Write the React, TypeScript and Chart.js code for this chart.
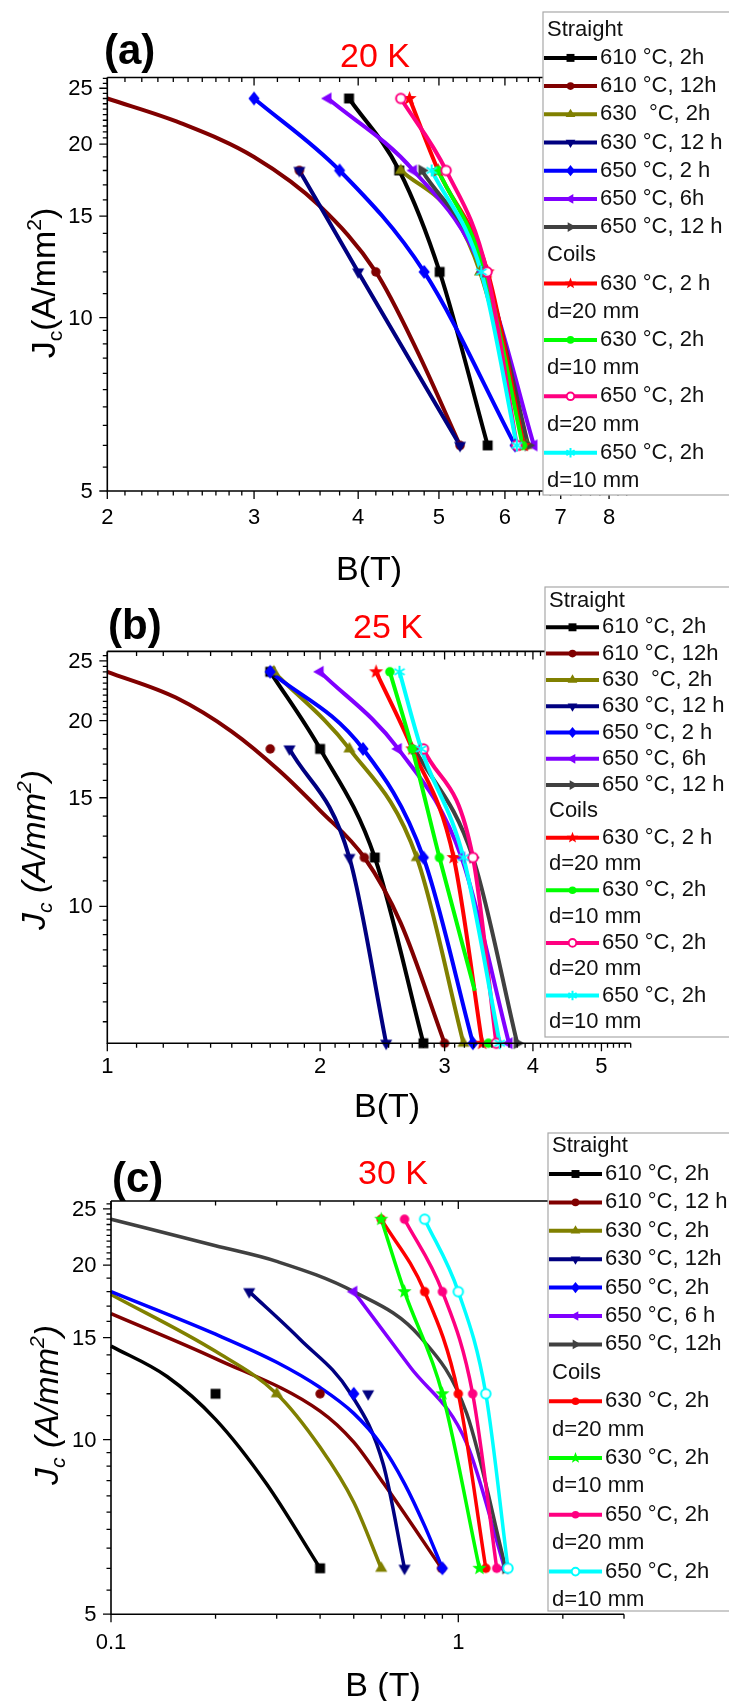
import React, { useEffect, useRef } from 'react';
import { Chart, registerables } from 'chart.js';

Chart.register(...registerables);

const FONT = '"Liberation Sans", Arial, Helvetica, sans-serif';
const PAGE_W = 729;

// Jc levels (A/mm^2) at which every sample was measured
const J_LEVELS = [24, 18, 12, 6];

// ---------- Panel (a), 20 K : B (T) reached at each Jc level (null = not shown)
const A_610_2H = [3.9, 4.48, 5.01, 5.72];
const A_610_12H = [null, 3.4, 4.2, 5.3];
const A_610_12H_FIT_B = [2.0, 2.45, 3.0, 3.6, 4.2, 4.7, 5.3];
const A_610_12H_FIT_J = [24, 21.75, 19, 15.6, 12, 8.8, 6];
const A_630_2H = [null, 4.5, 5.6, 6.37];
const A_630_2H_FIT_B = [4.5, 5.25, 5.6, 6.37];
const A_630_2H_FIT_J = [18, 14.77, 12, 6];
const A_630_12H = [null, 3.4, 4.0, 5.3];
const A_650_2H = [3.0, 3.8, 4.8, 6.17];
const A_650_6H = [3.68, 4.66, 5.65, 6.5];
const A_650_12H = [null, 4.77, 5.68, 6.4];
const A_C630_20 = [4.61, 4.99, 5.72, 6.32];
const A_C630_10 = [null, 4.99, 5.68, 6.3];
const A_C650_20 = [4.5, 5.1, 5.71, 6.2];
const A_C650_10 = [null, 4.9, 5.62, 6.2];

// ---------- Panel (b), 25 K
const B_610_2H = [1.7, 2.0, 2.39, 2.8];
const B_610_12H = [null, 1.7, 2.31, 3.0];
const B_610_12H_FIT_B = [1.0, 1.25, 1.5, 1.75, 2.0, 2.31, 2.6, 3.0];
const B_610_12H_FIT_J = [24, 21.8, 19.2, 16.6, 14.3, 12.0, 9.4, 6];
const B_630_2H = [1.72, 2.2, 2.74, 3.19];
const B_630_12H = [null, 1.81, 2.2, 2.48];
const B_650_2H = [1.7, 2.3, 2.8, 3.29];
const B_650_6H = [2.0, 2.58, 3.17, 3.7];
const B_650_12H = [null, 2.72, 3.29, 3.8];
const B_C630_20 = [2.4, 2.7, 3.09, 3.39];
const B_C630_10 = [2.51, 2.7, 2.95, 3.46];
const B_C630_10_FIT_B = [2.51, 2.7, 2.95, 3.31];
const B_C630_10_FIT_J = [24, 18, 12, 7.3];
const B_C650_20 = [null, 2.8, 3.29, 3.55];
const B_C650_10 = [2.59, 2.78, 3.19, 3.59];

// ---------- Panel (c), 30 K
const C_610_2H = [null, null, 0.2, 0.4];
const C_610_2H_FIT_B = [0.1, 0.145, 0.2, 0.28, 0.4];
const C_610_2H_FIT_J = [14.5, 12.85, 10.84, 8.4, 6];
const C_610_12H = [null, null, 0.4, 0.895];
const C_610_12H_FIT_B = [0.1, 0.2, 0.4, 0.5, 0.61, 0.895];
const C_610_12H_FIT_J = [16.5, 13.8, 11.2, 9.9, 8.4, 6];
const C_630_2H = [null, null, 0.3, 0.6];
const C_630_2H_FIT_B = [0.1, 0.2, 0.3, 0.4, 0.5, 0.6];
const C_630_2H_FIT_J = [17.8, 14.2, 12, 9.7, 7.8, 6];
const C_630_12H = [null, 0.25, 0.55, 0.7];
const C_630_12H_FIT_B = [0.25, 0.35, 0.49, 0.608, 0.7];
const C_630_12H_FIT_J = [18, 14.9, 12, 9.07, 6];
const C_650_2H = [null, null, 0.5, 0.9];
const C_650_2H_FIT_B = [0.1, 0.2, 0.3, 0.4, 0.5, 0.6, 0.7, 0.8, 0.9];
const C_650_2H_FIT_J = [18, 15.2, 13.6, 12.3, 11.1, 9.8, 8.4, 7.1, 6];
const C_650_6H = [null, 0.5, null, 1.36];
const C_650_6H_FIT_B = [0.5, 0.726, 1.057, 1.36];
const C_650_6H_FIT_J = [18, 13.36, 9.86, 6];
const C_650_12H = [null, null, null, 1.37];
const C_650_12H_FIT_B = [0.1, 0.2, 0.3, 0.5, 0.776, 1.057, 1.37];
const C_650_12H_FIT_J = [24, 21.6, 20.3, 18, 15.05, 11.1, 6];
const C_C630_20 = [0.6, 0.8, 1.0, 1.2];
const C_C630_10 = [0.6, 0.7, 0.9, 1.15];
const C_C650_20 = [0.7, 0.9, 1.1, 1.29];
const C_C650_10 = [0.8, 1.0, 1.2, 1.39];

// ---------- Tick labels
const A_X_TICKS = [2, 3, 4, 5, 6, 7, 8];
const B_X_TICKS = [1, 2, 3, 4, 5];
const C_X_TICKS = [0.1, 1];
const C_X_TICK_LABELS = ['0.1', '1'];
const A_Y_TICKS = [5, 10, 15, 20, 25];
const B_Y_TICKS = [10, 15, 20, 25];
const C_Y_TICKS = [5, 10, 15, 20, 25];

// ---------- Legend text
const LEGEND_AB = ['610 °C, 2h', '610 °C, 12h', '630  °C, 2h', '630 °C, 12 h', '650 °C, 2 h', '650 °C, 6h', '650 °C, 12 h', '630 °C, 2 h', '630 °C, 2h', '650 °C, 2h', '650 °C, 2h'];
const LEGEND_C = ['610 °C, 2h', '610 °C, 12 h', '630 °C, 2h', '630 °C, 12h', '650 °C, 2h', '650 °C, 6 h', '650 °C, 12h', '630 °C, 2h', '630 °C, 2h', '650 °C, 2h', '650 °C, 2h'];
const COIL_D = ['d=20 mm', 'd=10 mm', 'd=20 mm', 'd=10 mm'];

const COLORS = ['#000000', '#800000', '#808000', '#000080', '#0000ff', '#8000ff', '#404040', '#ff0000', '#00ff00', '#ff0080', '#00ffff'];

type Marker = 'square' | 'circle' | 'open' | 'up' | 'down' | 'left' | 'right' | 'diamond' | 'star' | 'asterisk';
const MARKERS_AB: Marker[] = ['square', 'circle', 'up', 'down', 'diamond', 'left', 'right', 'star', 'circle', 'open', 'asterisk'];
const MARKERS_C: Marker[] = ['square', 'circle', 'up', 'down', 'diamond', 'left', 'right', 'circle', 'star', 'circle', 'open'];

type Series = { b: (number | null)[]; fitB?: number[]; fitJ?: number[] };

const SERIES_A: Series[] = [
  { b: A_610_2H },
  { b: A_610_12H, fitB: A_610_12H_FIT_B, fitJ: A_610_12H_FIT_J },
  { b: A_630_2H, fitB: A_630_2H_FIT_B, fitJ: A_630_2H_FIT_J },
  { b: A_630_12H },
  { b: A_650_2H },
  { b: A_650_6H },
  { b: A_650_12H },
  { b: A_C630_20 },
  { b: A_C630_10 },
  { b: A_C650_20 },
  { b: A_C650_10 },
];
const SERIES_B: Series[] = [
  { b: B_610_2H },
  { b: B_610_12H, fitB: B_610_12H_FIT_B, fitJ: B_610_12H_FIT_J },
  { b: B_630_2H },
  { b: B_630_12H },
  { b: B_650_2H },
  { b: B_650_6H },
  { b: B_650_12H },
  { b: B_C630_20 },
  { b: B_C630_10, fitB: B_C630_10_FIT_B, fitJ: B_C630_10_FIT_J },
  { b: B_C650_20 },
  { b: B_C650_10 },
];
const SERIES_C: Series[] = [
  { b: C_610_2H, fitB: C_610_2H_FIT_B, fitJ: C_610_2H_FIT_J },
  { b: C_610_12H, fitB: C_610_12H_FIT_B, fitJ: C_610_12H_FIT_J },
  { b: C_630_2H, fitB: C_630_2H_FIT_B, fitJ: C_630_2H_FIT_J },
  { b: C_630_12H, fitB: C_630_12H_FIT_B, fitJ: C_630_12H_FIT_J },
  { b: C_650_2H, fitB: C_650_2H_FIT_B, fitJ: C_650_2H_FIT_J },
  { b: C_650_6H, fitB: C_650_6H_FIT_B, fitJ: C_650_6H_FIT_J },
  { b: C_650_12H, fitB: C_650_12H_FIT_B, fitJ: C_650_12H_FIT_J },
  { b: C_C630_20 },
  { b: C_C630_10 },
  { b: C_C650_20 },
  { b: C_C650_10 },
];

type PanelCfg = {
  top: number; height: number;
  area: { left: number; right: number; top: number; bottom: number };
  x: { min: number; max: number }; y: { min: number; max: number };
  xTicks: number[]; xLabels: string[]; xMinor: number[][];
  yTicks: number[]; yMinor: number[][];
  xLabelOffset: number;
  letter: string; letterPos: number[]; temp: string; tempPos: number[];
  xTitle: string; xTitlePos: number[];
  yTitlePos: number[]; yItalic: boolean; ySpace: boolean;
  legend: { x: number; top: number; bottom: number; y0: number; dy: number };
  labels: string[]; markers: Marker[]; series: Series[]; lineWidth: number;
};

const PANELS: PanelCfg[] = [
  {
    top: 0, height: 600,
    area: { left: 107.3, right: 631, top: 77.5, bottom: 491 },
    x: { min: 2, max: 8.5 }, y: { min: 5, max: 26.1 },
    xTicks: A_X_TICKS, xLabels: A_X_TICKS.map(String), xMinor: [[2, 3, 0.1], [3, 8.5, 0.2]],
    yTicks: A_Y_TICKS, yMinor: [[5, 10, 0.5], [10, 20, 1], [20, 26.1, 0.5]],
    xLabelOffset: 33,
    letter: '(a)', letterPos: [104, 64], temp: '20 K', tempPos: [340, 67],
    xTitle: 'B(T)', xTitlePos: [369, 580],
    yTitlePos: [43, 283], yItalic: false, ySpace: false,
    legend: { x: 543, top: 12, bottom: 495, y0: 28.7, dy: 28.2 },
    labels: LEGEND_AB, markers: MARKERS_AB, series: SERIES_A, lineWidth: 4,
  },
  {
    top: 575, height: 560,
    area: { left: 107.3, right: 630.7, top: 651.4, bottom: 1043.2 },
    x: { min: 1, max: 5.5 }, y: { min: 6, max: 25.9 },
    xTicks: B_X_TICKS, xLabels: B_X_TICKS.map(String), xMinor: [[1, 5.5, 0.1]],
    yTicks: B_Y_TICKS, yMinor: [[6, 10, 0.5], [10, 20, 1], [20, 25.9, 0.5]],
    xLabelOffset: 30,
    letter: '(b)', letterPos: [108, 639], temp: '25 K', tempPos: [353, 638],
    xTitle: 'B(T)', xTitlePos: [387, 1117],
    yTitlePos: [33, 850], yItalic: true, ySpace: true,
    legend: { x: 545, top: 587, bottom: 1037, y0: 600, dy: 26.3 },
    labels: LEGEND_AB, markers: MARKERS_AB, series: SERIES_B, lineWidth: 4,
  },
  {
    top: 1120, height: 581,
    area: { left: 111, right: 624, top: 1201, bottom: 1614.2 },
    x: { min: 0.1, max: 3.0 }, y: { min: 5, max: 25.8 },
    xTicks: C_X_TICKS, xLabels: C_X_TICK_LABELS, xMinor: [[0.1, 1, 0.1], [1, 3, 1]],
    yTicks: C_Y_TICKS, yMinor: [[5, 10, 0.5], [10, 20, 1], [20, 25.8, 0.5]],
    xLabelOffset: 35,
    letter: '(c)', letterPos: [112, 1192], temp: '30 K', tempPos: [358, 1184],
    xTitle: 'B (T)', xTitlePos: [383, 1696],
    yTitlePos: [46, 1405], yItalic: true, ySpace: true,
    legend: { x: 548, top: 1133, bottom: 1611, y0: 1144.6, dy: 28.4 },
    labels: LEGEND_C, markers: MARKERS_C, series: SERIES_C, lineWidth: 3.5,
  },
];

function minorTicks(ranges: number[][], majors: number[]): number[] {
  const out: number[] = [];
  ranges.forEach(([a, b, step]) => {
    const n = Math.round((b - a) / step);
    for (let k = 1; k <= n; k++) {
      const v = Math.round((a + k * step) * 1000) / 1000;
      if (v > b + 1e-9) break;
      if (!majors.some((m) => Math.abs(m - v) < 1e-6) && !out.includes(v)) out.push(v);
    }
  });
  return out;
}

const MARKER_R: Record<Marker, number> = { square: 6.2, circle: 5.6, open: 5.6, up: 7, down: 7, left: 7, right: 7, diamond: 7, star: 7.5, asterisk: 6 };

function pathMarker(ctx: CanvasRenderingContext2D, m: Marker, x: number, y: number, r: number) {
  ctx.beginPath();
  if (m === 'square') {
    const s = r * 0.8;
    ctx.rect(x - s, y - s, 2 * s, 2 * s);
  } else if (m === 'circle' || m === 'open') {
    ctx.arc(x, y, r * 0.85, 0, Math.PI * 2);
  } else if (m === 'diamond') {
    ctx.moveTo(x, y - r); ctx.lineTo(x + r * 0.8, y); ctx.lineTo(x, y + r); ctx.lineTo(x - r * 0.8, y); ctx.closePath();
  } else if (m === 'up' || m === 'down' || m === 'left' || m === 'right') {
    const rot = { up: 0, right: Math.PI / 2, down: Math.PI, left: -Math.PI / 2 }[m];
    for (let k = 0; k < 3; k++) {
      const a = rot + (k * 2 * Math.PI) / 3;
      const px = x + Math.sin(a) * r;
      const py = y - Math.cos(a) * r;
      if (k === 0) ctx.moveTo(px, py); else ctx.lineTo(px, py);
    }
    ctx.closePath();
  } else if (m === 'star') {
    for (let k = 0; k < 10; k++) {
      const rr = k % 2 ? r * 0.42 : r;
      const a = (k * Math.PI) / 5;
      const px = x + Math.sin(a) * rr;
      const py = y - Math.cos(a) * rr;
      if (k === 0) ctx.moveTo(px, py); else ctx.lineTo(px, py);
    }
    ctx.closePath();
  } else {
    for (let k = 0; k < 3; k++) {
      const a = (k * Math.PI) / 3;
      ctx.moveTo(x + Math.sin(a) * r, y - Math.cos(a) * r);
      ctx.lineTo(x - Math.sin(a) * r, y + Math.cos(a) * r);
    }
  }
}

function drawMarker(ctx: CanvasRenderingContext2D, m: Marker, x: number, y: number, r: number, color: string) {
  pathMarker(ctx, m, x, y, r);
  if (m === 'asterisk') {
    ctx.strokeStyle = color; ctx.lineWidth = 2; ctx.stroke(); return;
  }
  if (m === 'open') {
    ctx.fillStyle = '#ffffff'; ctx.fill(); ctx.strokeStyle = color; ctx.lineWidth = 2; ctx.stroke(); return;
  }
  ctx.fillStyle = color; ctx.fill();
}

function markerCanvas(m: Marker, r: number, color: string): HTMLCanvasElement {
  const size = Math.ceil(2 * r + 4);
  const c = document.createElement('canvas');
  c.width = size; c.height = size;
  const ctx = c.getContext('2d')!;
  drawMarker(ctx, m, size / 2, size / 2, r, color);
  return c;
}

type Part = { t: string; s: number; dy: number };
function drawRich(ctx: CanvasRenderingContext2D, parts: Part[], x: number, y: number, size: number, style: string) {
  const widths = parts.map((p) => {
    ctx.font = `${style}${size * p.s}px ${FONT}`;
    return ctx.measureText(p.t).width;
  });
  const total = widths.reduce((a, b) => a + b, 0);
  let cx = x - total / 2;
  parts.forEach((p, i) => {
    ctx.font = `${style}${size * p.s}px ${FONT}`;
    ctx.fillText(p.t, cx, y + p.dy * size);
    cx += widths[i];
  });
}

function makeDecor(cfg: PanelCfg) {
  return {
    id: 'decor',
    afterDraw(chart: any) {
      const ctx: CanvasRenderingContext2D = chart.ctx;
      const a = chart.chartArea;
      const xs = chart.scales.x;
      const ys = chart.scales.y;
      const off = cfg.top;
      ctx.save();
      // frame
      ctx.strokeStyle = '#000'; ctx.lineWidth = 1.6;
      ctx.beginPath();
      ctx.moveTo(a.left, a.top); ctx.lineTo(a.left, a.bottom); ctx.lineTo(a.right, a.bottom);
      ctx.moveTo(a.left, a.top); ctx.lineTo(a.right, a.top);
      ctx.stroke();
      // ticks
      ctx.lineWidth = 1.3;
      ctx.beginPath();
      const xMin = minorTicks(cfg.xMinor, cfg.xTicks);
      cfg.xTicks.forEach((v) => {
        const px = xs.getPixelForValue(v);
        ctx.moveTo(px, a.bottom); ctx.lineTo(px, a.bottom + 8);
        ctx.moveTo(px, a.top); ctx.lineTo(px, a.top + 8);
      });
      xMin.forEach((v) => {
        const px = xs.getPixelForValue(v);
        ctx.moveTo(px, a.bottom); ctx.lineTo(px, a.bottom + 4.5);
        ctx.moveTo(px, a.top); ctx.lineTo(px, a.top + 4.5);
      });
      const yMin = minorTicks(cfg.yMinor, cfg.yTicks);
      cfg.yTicks.forEach((v) => {
        const py = ys.getPixelForValue(v);
        ctx.moveTo(a.left, py); ctx.lineTo(a.left - 8, py);
      });
      yMin.forEach((v) => {
        const py = ys.getPixelForValue(v);
        ctx.moveTo(a.left, py); ctx.lineTo(a.left - 4.5, py);
      });
      ctx.stroke();
      // tick labels
      ctx.fillStyle = '#000';
      ctx.font = `22px ${FONT}`;
      ctx.textAlign = 'center'; ctx.textBaseline = 'alphabetic';
      cfg.xTicks.forEach((v, i) => {
        ctx.fillText(cfg.xLabels[i], xs.getPixelForValue(v), a.bottom + cfg.xLabelOffset);
      });
      ctx.textAlign = 'right'; ctx.textBaseline = 'middle';
      cfg.yTicks.forEach((v) => {
        ctx.fillText(String(v), a.left - 14.5, ys.getPixelForValue(v) + 1);
      });
      // panel letter and temperature
      ctx.textAlign = 'left'; ctx.textBaseline = 'alphabetic';
      ctx.font = `bold 42px ${FONT}`;
      ctx.fillText(cfg.letter, cfg.letterPos[0], cfg.letterPos[1] - off);
      ctx.fillStyle = '#ff0000';
      ctx.font = `34px ${FONT}`;
      ctx.fillText(cfg.temp, cfg.tempPos[0], cfg.tempPos[1] - off);
      // axis titles
      ctx.fillStyle = '#000';
      ctx.textAlign = 'center';
      ctx.font = `34px ${FONT}`;
      ctx.fillText(cfg.xTitle, cfg.xTitlePos[0], cfg.xTitlePos[1] - off);
      ctx.save();
      ctx.translate(cfg.yTitlePos[0], cfg.yTitlePos[1] - off);
      ctx.rotate(-Math.PI / 2);
      ctx.textAlign = 'left';
      const parts: Part[] = [
        { t: 'J', s: 1, dy: 0 },
        { t: 'c', s: 0.62, dy: 0.2 },
        { t: cfg.ySpace ? ' (A/mm' : '(A/mm', s: 1, dy: 0 },
        { t: '2', s: 0.62, dy: -0.42 },
        { t: ')', s: 1, dy: 0 },
      ];
      drawRich(ctx, parts, 0, 34 * 0.36, 34, cfg.yItalic ? 'italic ' : '');
      ctx.restore();
      // legend
      const L = cfg.legend;
      const lt = L.top - off;
      const lb = L.bottom - off;
      ctx.fillStyle = '#ffffff';
      ctx.fillRect(L.x, lt, PAGE_W - L.x + 5, lb - lt);
      ctx.strokeStyle = '#a8a8a8'; ctx.lineWidth = 1.2;
      ctx.strokeRect(L.x, lt, PAGE_W - L.x + 20, lb - lt);
      const yOf = (r: number) => L.y0 - off + r * L.dy + 1;
      let row = 0;
      const header = (t: string) => {
        ctx.fillStyle = '#111'; ctx.font = `22px ${FONT}`;
        ctx.textAlign = 'left'; ctx.textBaseline = 'middle';
        ctx.fillText(t, L.x + 4, yOf(row++));
      };
      const entry = (i: number) => {
        const y = yOf(row++);
        ctx.strokeStyle = COLORS[i]; ctx.lineWidth = 4;
        ctx.beginPath(); ctx.moveTo(L.x + 1, y); ctx.lineTo(L.x + 54, y); ctx.stroke();
        const m = cfg.markers[i];
        drawMarker(ctx, m, L.x + 27.5, y, MARKER_R[m] * 0.8, COLORS[i]);
        ctx.fillStyle = '#111'; ctx.font = `22px ${FONT}`;
        ctx.textAlign = 'left'; ctx.textBaseline = 'middle';
        ctx.fillText(cfg.labels[i], L.x + 57, y);
      };
      header('Straight');
      for (let i = 0; i < 7; i++) entry(i);
      header('Coils');
      for (let i = 7; i < 11; i++) {
        entry(i);
        header(COIL_D[i - 7]);
      }
      ctx.restore();
    },
  };
}

function buildConfig(cfg: PanelCfg): any {
  const datasets: any[] = [];
  cfg.series.forEach((s, i) => {
    const color = COLORS[i];
    const pts = s.b
      .map((b, k) => (b == null ? null : { x: b, y: J_LEVELS[k] }))
      .filter((p) => p !== null);
    const line = s.fitB && s.fitJ ? s.fitB.map((b, k) => ({ x: b, y: s.fitJ![k] })) : pts;
    datasets.push({
      data: line, showLine: true, borderColor: color, backgroundColor: color,
      borderWidth: cfg.lineWidth, pointRadius: 0, pointHoverRadius: 0,
      cubicInterpolationMode: 'monotone', fill: false, order: 1000 - i, clip: false,
    });
    const m = cfg.markers[i];
    datasets.push({
      data: pts, showLine: false, pointStyle: markerCanvas(m, MARKER_R[m], color),
      pointRadius: 6, pointHoverRadius: 6, borderColor: color, backgroundColor: color,
      order: 500 - i, clip: false,
    });
  });
  return {
    type: 'line',
    data: { datasets },
    options: {
      animation: false,
      responsive: false,
      maintainAspectRatio: false,
      devicePixelRatio: 1,
      events: [],
      layout: {
        padding: {
          left: cfg.area.left,
          right: PAGE_W - cfg.area.right,
          top: cfg.area.top - cfg.top,
          bottom: cfg.top + cfg.height - cfg.area.bottom,
        },
      },
      plugins: { legend: { display: false }, tooltip: { enabled: false }, title: { display: false } },
      scales: {
        x: { type: 'logarithmic', display: false, min: cfg.x.min, max: cfg.x.max, bounds: 'data' },
        y: { type: 'logarithmic', display: false, min: cfg.y.min, max: cfg.y.max, bounds: 'data' },
      },
    },
    plugins: [makeDecor(cfg)],
  };
}

function Panel({ cfg }: { cfg: PanelCfg }) {
  const ref = useRef<HTMLCanvasElement>(null);
  useEffect(() => {
    const canvas = ref.current;
    if (!canvas) return;
    const chart = new Chart(canvas, buildConfig(cfg));
    return () => chart.destroy();
  }, [cfg]);
  return (
    <canvas
      ref={ref}
      width={PAGE_W}
      height={cfg.height}
      style={{ position: 'absolute', left: 0, top: cfg.top, width: PAGE_W, height: cfg.height }}
    />
  );
}

export default function App() {
  return (
    <div style={{ position: 'absolute', left: 0, top: 0, width: PAGE_W, height: 1701, background: '#ffffff', overflow: 'hidden' }}>
      {PANELS.map((p, i) => (
        <Panel key={i} cfg={p} />
      ))}
    </div>
  );
}
